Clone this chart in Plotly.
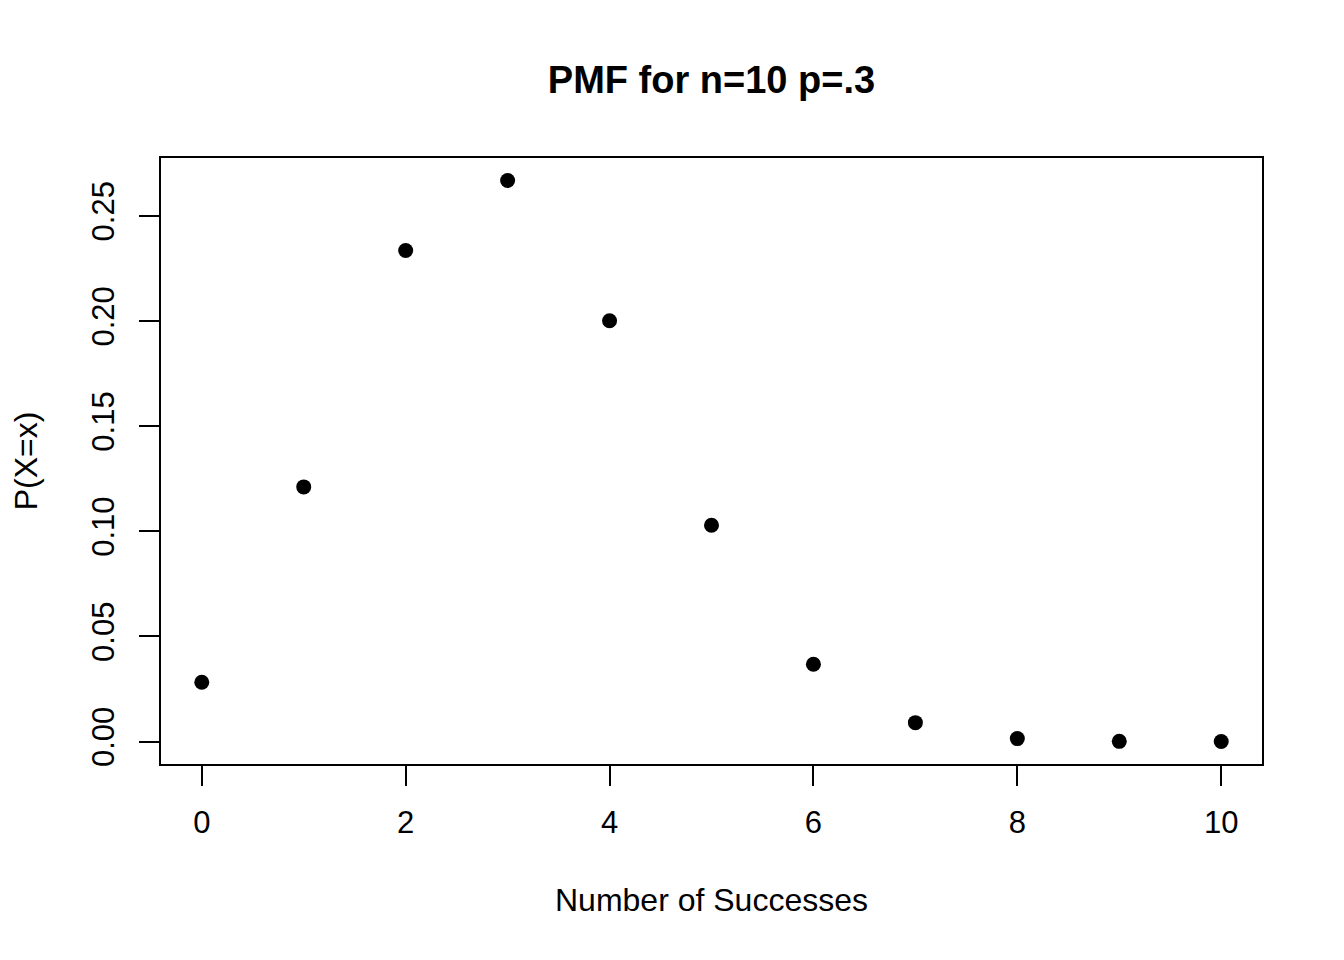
import plotly.graph_objects as go

# binomial pmf values
successes = [0, 1, 2, 3, 4, 5, 6, 7, 8, 9, 10]
prob = [0.0282, 0.1211, 0.2335, 0.2668, 0.2001, 0.1029, 0.0368, 0.0090, 0.0014, 0.0001, 0.0000]
x_ticks = [0, 2, 4, 6, 8, 10]
y_ticks = [0.00, 0.05, 0.10, 0.15, 0.20, 0.25]

font = "Liberation Sans, Arial, Helvetica, sans-serif"

fig = go.Figure(go.Scatter(x=successes, y=prob, mode="markers",
                           marker=dict(color="black", size=15)))

fig.update_layout(
    width=1344, height=960,
    margin=dict(l=140, r=90, t=150, b=204),
    paper_bgcolor="white", plot_bgcolor="white",
    showlegend=False,
    font=dict(family=font, size=31, color="black"),
    title=dict(text="<b>PMF for n=10 p=.3</b>", x=0.5, xref="paper", xanchor="center",
               y=1 - 72 / 960, yanchor="middle", yref="container",
               font=dict(size=38, family=font)),
)

fig.update_xaxes(
    range=[-0.4, 10.4], tickvals=x_ticks, ticktext=[str(v) for v in x_ticks],
    showgrid=False, zeroline=False, showline=True, linecolor="black", linewidth=2,
    mirror=True, ticks="outside", ticklen=20, tickwidth=2, tickcolor="black",
    ticklabelstandoff=10,
    title=dict(text="Number of Successes", standoff=49, font=dict(size=32)),
)

fig.update_yaxes(
    range=[-0.01067, 0.27752], tickvals=y_ticks, ticktext=[f"{v:.2f}" for v in y_ticks],
    showgrid=False, zeroline=False, showline=True, linecolor="black", linewidth=2,
    mirror=True, ticks="outside", ticklen=20, tickwidth=2, tickcolor="black",
    tickangle=-90, ticklabelstandoff=13,
    title=dict(text="P(X=x)", standoff=43, font=dict(size=32)),
)

fig.write_html("out.html")
